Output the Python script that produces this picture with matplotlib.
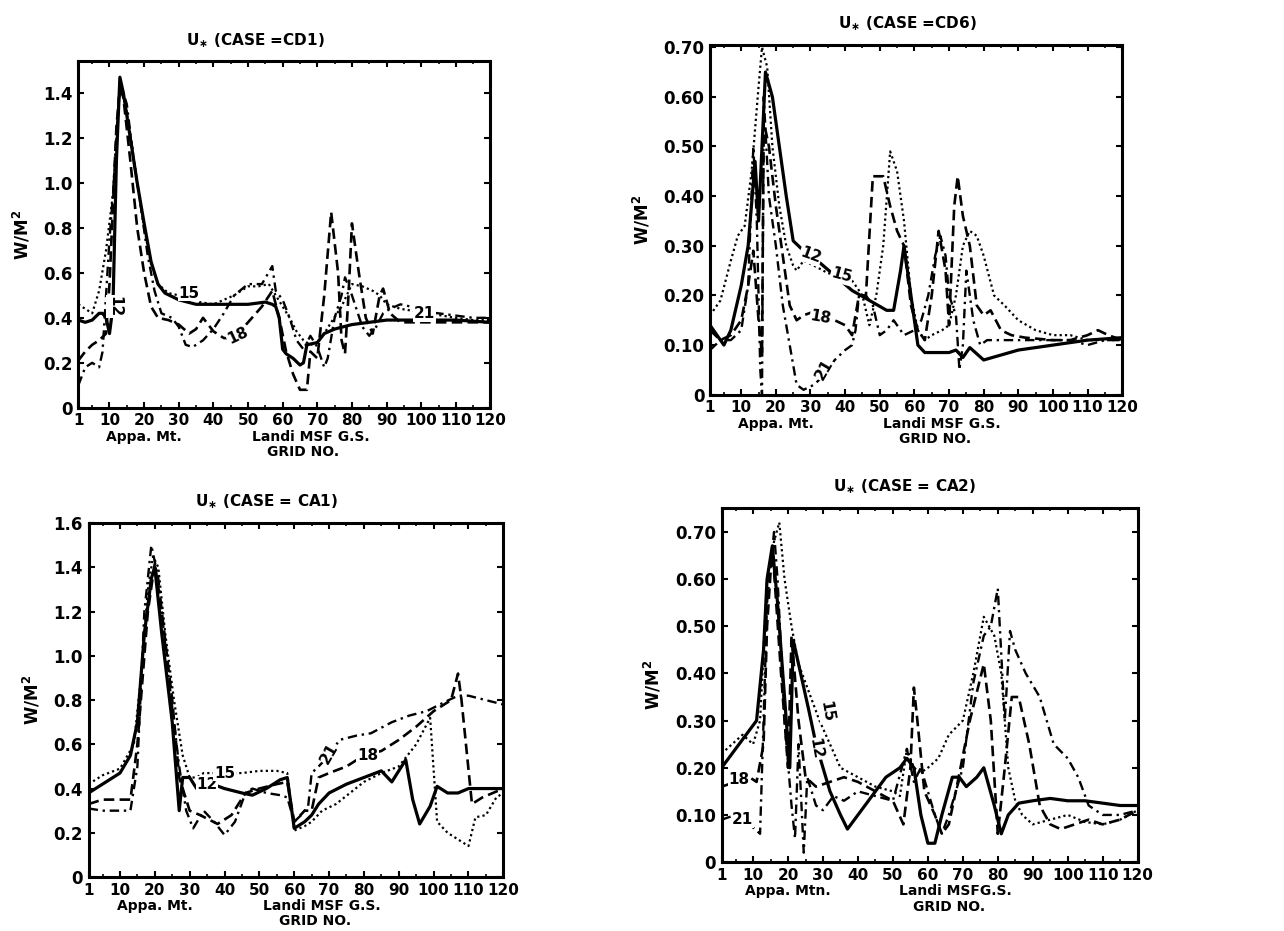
import matplotlib
matplotlib.use("Agg")
import matplotlib.pyplot as plt

plt.rcParams['font.family'] = ['DejaVu Sans']
plt.rcParams['font.weight'] = 'bold'

xticks = [1, 10, 20, 30, 40, 50, 60, 70, 80, 90, 100, 110, 120]
xticklabels = ['1', '10', '20', '30', '40', '50', '60', '70', '80', '90', '100', '110', '120']

# ---- CASE = CD1 ----
cd1_x12 = [1, 3, 5, 7, 8, 9, 10, 11, 12, 13, 14, 16, 18, 20, 22, 24, 26, 30, 35, 40, 45, 50, 55, 57, 58, 59, 60, 61, 63, 65, 66, 67, 70, 72, 75, 80, 85, 90, 95, 100, 110, 120]
cd1_y12 = [0.39, 0.38, 0.39, 0.42, 0.42, 0.40, 0.33, 0.45, 1.10, 1.47, 1.40, 1.20, 1.00, 0.82, 0.65, 0.55, 0.51, 0.48, 0.46, 0.46, 0.46, 0.46, 0.47, 0.46, 0.45, 0.40, 0.26, 0.24, 0.22, 0.19, 0.20, 0.28, 0.29, 0.33, 0.35, 0.37, 0.38, 0.39, 0.39, 0.39, 0.39, 0.38]
cd1_x15 = [1, 3, 5, 7, 9, 11, 12, 13, 14, 16, 18, 20, 22, 24, 27, 30, 33, 36, 40, 43, 46, 50, 53, 56, 58, 60, 62, 64, 66, 68, 70, 72, 74, 77, 80, 83, 86, 88, 90, 94, 98, 102, 106, 110, 115, 120]
cd1_y15 = [0.46, 0.44, 0.42, 0.52, 0.70, 0.95, 1.20, 1.42, 1.40, 1.22, 1.00, 0.80, 0.64, 0.55, 0.51, 0.50, 0.50, 0.47, 0.46, 0.48, 0.50, 0.54, 0.54, 0.55, 0.50, 0.45, 0.40, 0.34, 0.30, 0.28, 0.29, 0.33, 0.38, 0.45, 0.55, 0.54, 0.52, 0.50, 0.46, 0.44, 0.43, 0.42, 0.41, 0.40, 0.39, 0.39]
cd1_x18 = [1, 3, 5, 7, 9, 10, 11, 12, 13, 14, 16, 18, 20, 22, 24, 27, 30, 33, 35, 37, 40, 43, 46, 50, 54, 57, 59, 61, 63, 65, 67, 68, 70, 72, 74, 76, 77, 78, 79, 80, 82, 84, 86, 88, 89, 91, 94, 98, 102, 108, 114, 120]
cd1_y18 = [0.21, 0.25, 0.28, 0.30, 0.33, 0.55, 0.90, 1.25, 1.42, 1.38, 1.10, 0.80, 0.60, 0.45, 0.40, 0.39, 0.37, 0.33, 0.35, 0.40, 0.34, 0.31, 0.31, 0.38, 0.45, 0.52, 0.40, 0.25, 0.15, 0.08, 0.08, 0.25, 0.22, 0.50, 0.87, 0.60, 0.30, 0.24, 0.50, 0.82, 0.60, 0.40, 0.33, 0.50, 0.53, 0.42, 0.38, 0.38, 0.38, 0.38, 0.38, 0.38]
cd1_x21 = [1, 3, 5, 7, 8, 9, 10, 11, 12, 13, 15, 17, 19, 21, 23, 25, 28, 30, 32, 34, 37, 40, 43, 46, 50, 54, 57, 58, 60, 62, 64, 66, 68, 70, 72, 73, 75, 77, 78, 80, 83, 85, 87, 89, 91, 94, 97, 100, 105, 110, 115, 120]
cd1_y21 = [0.10, 0.18, 0.20, 0.18, 0.25, 0.50, 0.75, 0.95, 1.20, 1.45, 1.35, 1.10, 0.90, 0.68, 0.52, 0.42, 0.40, 0.36, 0.28, 0.27, 0.30, 0.35, 0.42, 0.50, 0.55, 0.55, 0.63, 0.52, 0.48, 0.40, 0.30, 0.26, 0.32, 0.27, 0.18, 0.22, 0.40, 0.50, 0.58, 0.50, 0.36, 0.32, 0.36, 0.42, 0.44, 0.46, 0.45, 0.43, 0.42, 0.41, 0.40, 0.40]

# ---- CASE = CD6 ----
cd6_x12 = [1, 5, 7, 10, 12, 14, 15, 17, 19, 21, 23, 25, 28, 32, 37, 42, 47, 52, 54, 56, 57, 59, 61, 63, 70, 72, 74, 76, 80, 85, 90, 100, 110, 120]
cd6_y12 = [0.14, 0.10, 0.13, 0.22, 0.30, 0.47, 0.35, 0.65, 0.60, 0.50, 0.40, 0.31, 0.29, 0.27, 0.24, 0.21, 0.19, 0.17, 0.17, 0.25, 0.30, 0.20, 0.10, 0.085, 0.085, 0.09, 0.075, 0.095, 0.07, 0.08, 0.09, 0.10, 0.11, 0.115]
cd6_x15 = [1, 4, 7, 9, 11, 13, 15, 16, 17.5, 19, 21, 23, 25, 26, 28, 31, 35, 38, 41, 43, 45, 47, 49, 51, 53, 55, 57, 59, 61, 63, 65, 68, 70, 72, 74, 76, 78, 80, 83, 86, 90, 95, 100, 105, 110, 115, 120]
cd6_y15 = [0.16, 0.19, 0.27, 0.32, 0.34, 0.45, 0.62, 0.70, 0.66, 0.50, 0.38, 0.30, 0.26, 0.25, 0.27, 0.26, 0.245, 0.24, 0.24, 0.22, 0.20, 0.14, 0.20, 0.30, 0.49, 0.45, 0.35, 0.20, 0.13, 0.11, 0.12, 0.13, 0.14, 0.20, 0.30, 0.33, 0.32, 0.28, 0.20, 0.18, 0.15, 0.13, 0.12, 0.12, 0.11, 0.11, 0.11]
cd6_x18 = [1, 4, 7, 10, 12, 13.5, 15, 16, 16.5, 18, 20, 22, 24, 26, 28, 30, 33, 37, 40, 42, 44, 46, 48, 51, 53, 55, 57, 59, 61, 63, 65, 67, 69, 70, 71.5, 72.5, 74, 76, 78, 80, 82, 85, 88, 92, 100, 105, 110, 113, 116, 120]
cd6_y18 = [0.13, 0.11, 0.12, 0.15, 0.22, 0.29, 0.15, 0.08, 0.55, 0.50, 0.38, 0.28, 0.18, 0.15, 0.16, 0.165, 0.16, 0.15, 0.14, 0.12, 0.20, 0.20, 0.44, 0.44, 0.38, 0.33, 0.30, 0.18, 0.13, 0.11, 0.20, 0.33, 0.25, 0.14, 0.38, 0.44, 0.36, 0.30, 0.18, 0.16, 0.17, 0.13, 0.12, 0.115, 0.11, 0.11, 0.12, 0.13, 0.12, 0.11]
cd6_x21 = [1, 4, 7, 10, 12, 13.5, 14.5, 15.5, 16, 16.5, 18, 20, 22, 24, 26, 28, 31, 34, 37, 40, 42, 43, 44, 46, 48, 50, 52, 54, 57, 60, 62, 64, 66, 67.5, 69, 70, 72, 73, 74, 75, 77, 79, 81, 85, 90, 95, 100, 105, 110, 115, 120]
cd6_y21 = [0.09, 0.11, 0.11, 0.13, 0.22, 0.50, 0.35, 0.05, 0.00, 0.60, 0.40, 0.30, 0.18, 0.10, 0.02, 0.01, 0.02, 0.04, 0.07, 0.09, 0.10, 0.13, 0.20, 0.20, 0.18, 0.12, 0.13, 0.15, 0.12, 0.13, 0.15, 0.20, 0.28, 0.32, 0.28, 0.20, 0.16, 0.05, 0.10, 0.25, 0.15, 0.10, 0.11, 0.11, 0.11, 0.11, 0.11, 0.11, 0.10, 0.11, 0.11]

# ---- CASE = CA1 ----
ca1_x12 = [1, 5, 10, 13, 15, 17, 19, 20, 22, 25, 27, 28, 30, 32, 33, 40, 45, 48, 52, 56, 58, 60, 63, 65, 67, 70, 75, 80, 85, 88, 90, 92, 94, 96, 99, 101, 104, 107, 110, 115, 120]
ca1_y12 = [0.38, 0.42, 0.47, 0.55, 0.70, 1.10, 1.35, 1.40, 1.10, 0.70, 0.30, 0.45, 0.45, 0.40, 0.44, 0.40, 0.38, 0.37, 0.40, 0.44, 0.45, 0.22, 0.25, 0.28, 0.33, 0.38, 0.42, 0.45, 0.48, 0.43, 0.48, 0.53, 0.35, 0.24, 0.32, 0.41, 0.38, 0.38, 0.40, 0.40, 0.40]
ca1_x15 = [1, 5, 10, 14, 16, 18, 19.5, 21, 23, 25.5, 28, 30, 32, 34, 40, 45, 50, 55, 58, 60, 63, 65, 68, 72, 76, 80, 85, 90, 95, 99, 101, 104, 107, 110, 112, 115, 118, 120]
ca1_y15 = [0.42, 0.46, 0.49, 0.60, 0.90, 1.30, 1.45, 1.40, 1.10, 0.80, 0.55, 0.45, 0.45, 0.47, 0.47, 0.47, 0.48, 0.48, 0.47, 0.21, 0.23, 0.25, 0.30, 0.33, 0.38, 0.43, 0.47, 0.50, 0.60, 0.72, 0.25, 0.20, 0.17, 0.14, 0.27, 0.28, 0.36, 0.38]
ca1_x18 = [1, 5, 13, 15, 18, 20, 22, 25, 27, 30, 33, 38, 42, 46, 50, 55, 58, 60, 63, 65, 67, 70, 75, 80, 85, 90, 95, 100, 105, 107, 108, 111, 114, 117, 120]
ca1_y18 = [0.33, 0.35, 0.35, 0.60, 1.20, 1.42, 1.20, 0.80, 0.45, 0.30, 0.28, 0.24, 0.28, 0.38, 0.40, 0.42, 0.43, 0.25, 0.30, 0.30, 0.45, 0.47, 0.50, 0.55, 0.57, 0.62, 0.68, 0.75, 0.80, 0.92, 0.80, 0.33, 0.36, 0.38, 0.40]
ca1_x21 = [1, 5, 13, 15, 17, 19, 21, 24, 27, 29, 31, 34, 37, 40, 43, 46, 48, 52, 56, 58, 60, 62, 64, 65, 67, 70, 73, 78, 82, 88, 93, 98, 103, 107, 110, 115, 120]
ca1_y21 = [0.31, 0.30, 0.30, 0.50, 1.20, 1.50, 1.35, 0.90, 0.50, 0.30, 0.22, 0.30, 0.25, 0.19, 0.25, 0.38, 0.40, 0.38, 0.37, 0.36, 0.25, 0.28, 0.32, 0.47, 0.50, 0.55, 0.62, 0.64, 0.65, 0.70, 0.73, 0.75, 0.79, 0.82, 0.82, 0.80, 0.78]

# ---- CASE = CA2 ----
ca2_x12 = [1, 4, 8, 11, 13, 14, 15.5, 17, 19, 20.5, 21.5, 23, 26, 28, 30, 32, 35, 37, 40, 44, 48, 52, 54, 56, 58, 60, 62, 64, 67, 69, 71, 74, 76, 79, 81, 83, 86, 90, 95, 100, 105, 110, 115, 120]
ca2_y12 = [0.20, 0.23, 0.27, 0.30, 0.45, 0.60, 0.67, 0.55, 0.35, 0.20, 0.47, 0.42, 0.32, 0.25, 0.20, 0.15, 0.10, 0.07, 0.10, 0.14, 0.18, 0.20, 0.22, 0.20, 0.10, 0.04, 0.04, 0.10, 0.18, 0.18, 0.16, 0.18, 0.20, 0.12, 0.06, 0.10, 0.125, 0.13, 0.135, 0.13, 0.13, 0.125, 0.12, 0.12]
ca2_x15 = [1, 4, 7, 10, 12, 14, 16, 17.5, 19, 21, 23, 26, 29, 32, 35, 40, 45, 50, 52, 54, 56, 58, 60, 63, 66, 70, 73, 75, 76, 79, 81, 82, 83, 85, 87, 90, 95, 100, 105, 110, 115, 120]
ca2_y15 = [0.23, 0.25, 0.27, 0.25, 0.30, 0.60, 0.68, 0.72, 0.60, 0.50, 0.42, 0.36, 0.30, 0.25, 0.20, 0.18, 0.16, 0.15, 0.14, 0.24, 0.20, 0.19, 0.20, 0.22, 0.27, 0.30, 0.40, 0.48, 0.52, 0.48, 0.40, 0.30, 0.20, 0.13, 0.10, 0.08, 0.09, 0.10, 0.085, 0.08, 0.09, 0.11]
ca2_x18 = [1, 5, 9, 11, 13, 14, 15.5, 18, 20, 21, 23, 25, 28, 32, 36, 40, 45, 50, 53, 55, 56, 57, 59, 62, 64, 66, 68, 72, 76, 78, 80, 82, 84, 86, 89, 92, 95, 98, 102, 106, 110, 115, 120]
ca2_y18 = [0.16, 0.17, 0.18, 0.17, 0.25, 0.50, 0.67, 0.40, 0.20, 0.48, 0.30, 0.18, 0.16, 0.17, 0.18, 0.17, 0.15, 0.13, 0.08, 0.20, 0.37, 0.30, 0.15, 0.10, 0.06, 0.08, 0.15, 0.30, 0.42, 0.30, 0.06, 0.20, 0.35, 0.35, 0.25, 0.12, 0.08, 0.07, 0.08, 0.09, 0.08, 0.09, 0.11]
ca2_x21 = [1, 5, 9, 12, 13, 14, 16, 17, 19, 21, 22, 23, 24.5, 25.5, 28, 30, 33, 36, 40, 45, 50, 54, 56, 58, 60, 62, 64, 66, 70, 73, 76, 78, 80, 82, 83.5, 85, 88, 92, 96, 100, 103, 106, 110, 115, 120]
ca2_y21 = [0.09, 0.10, 0.08, 0.06, 0.30, 0.55, 0.70, 0.60, 0.30, 0.12, 0.05, 0.25, 0.02, 0.18, 0.12, 0.11, 0.14, 0.13, 0.15, 0.14, 0.13, 0.24, 0.17, 0.20, 0.15, 0.10, 0.06, 0.10, 0.20, 0.38, 0.48, 0.50, 0.58, 0.30, 0.49, 0.45, 0.40, 0.35, 0.25, 0.22, 0.18, 0.12, 0.10, 0.10, 0.11]

styles = {
    '12': dict(color='black', lw=2.3, linestyle='-'),
    '15': dict(color='black', lw=1.6, linestyle=(0, (1, 1.4))),
    '18': dict(color='black', lw=1.9, linestyle=(0, (4, 2))),
    '21': dict(color='black', lw=1.7, linestyle=(0, (4, 2, 1, 2))),
}

fig = plt.figure(figsize=(12.84, 9.31), dpi=100)

panels = [
    dict(rect=[0.061, 0.562, 0.321, 0.372], ylim=1.54, yt=[0, 0.2, 0.4, 0.6, 0.8, 1.0, 1.2, 1.4],
         ytl=['0', '0.2', '0.4', '0.6', '0.8', '1.0', '1.2', '1.4'],
         title='U$_{\\ast}$ (CASE =CD1)', tx=0.43, appa='Appa. Mt.', landi='Landi MSF G.S.',
         data=[(cd1_x12, cd1_y12, '12'), (cd1_x15, cd1_y15, '15'), (cd1_x18, cd1_y18, '18'), (cd1_x21, cd1_y21, '21')],
         labels=[('12', 11.5, 0.45, -90), ('15', 33, 0.51, 0), ('18', 47, 0.32, 25), ('21', 101, 0.42, 0)]),
    dict(rect=[0.553, 0.576, 0.321, 0.376], ylim=0.705, yt=[0, 0.1, 0.2, 0.3, 0.4, 0.5, 0.6, 0.7],
         ytl=['0', '0.10', '0.20', '0.30', '0.40', '0.50', '0.60', '0.70'],
         title='U$_{\\ast}$ (CASE =CD6)', tx=0.48, appa='Appa. Mt.', landi='Landi MSF G.S.',
         data=[(cd6_x12, cd6_y12, '12'), (cd6_x15, cd6_y15, '15'), (cd6_x18, cd6_y18, '18'), (cd6_x21, cd6_y21, '21')],
         labels=[('12', 30, 0.28, -20), ('15', 39, 0.24, -15), ('18', 33, 0.155, -10), ('21', 34, 0.05, 60)]),
    dict(rect=[0.069, 0.058, 0.323, 0.380], ylim=1.6, yt=[0, 0.2, 0.4, 0.6, 0.8, 1.0, 1.2, 1.4, 1.6],
         ytl=['0', '0.2', '0.4', '0.6', '0.8', '1.0', '1.2', '1.4', '1.6'],
         title='U$_{\\ast}$ (CASE = CA1)', tx=0.43, appa='Appa. Mt.', landi='Landi MSF G.S.',
         data=[(ca1_x12, ca1_y12, '12'), (ca1_x15, ca1_y15, '15'), (ca1_x18, ca1_y18, '18'), (ca1_x21, ca1_y21, '21')],
         labels=[('12', 35, 0.42, 0), ('15', 40, 0.47, 0), ('21', 70, 0.56, 60), ('18', 81, 0.55, 0)]),
    dict(rect=[0.562, 0.074, 0.324, 0.380], ylim=0.75, yt=[0, 0.1, 0.2, 0.3, 0.4, 0.5, 0.6, 0.7],
         ytl=['0', '0.10', '0.20', '0.30', '0.40', '0.50', '0.60', '0.70'],
         title='U$_{\\ast}$ (CASE = CA2)', tx=0.44, appa='Appa. Mtn.', landi='Landi MSFG.S.',
         data=[(ca2_x12, ca2_y12, '12'), (ca2_x15, ca2_y15, '15'), (ca2_x18, ca2_y18, '18'), (ca2_x21, ca2_y21, '21')],
         labels=[('18', 6, 0.175, 0), ('21', 7, 0.09, 0), ('12', 28, 0.24, -80), ('15', 31, 0.32, -80)]),
]

for p in panels:
    ax = fig.add_axes(p['rect'])
    for xs, ys, key in p['data']:
        ax.plot(xs, ys, **styles[key])
    ax.set_xlim(1, 120)
    ax.set_ylim(0, p['ylim'])
    ax.set_xticks(xticks)
    ax.set_xticklabels(xticklabels)
    ax.set_yticks(p['yt'])
    ax.set_yticklabels(p['ytl'])
    ax.set_xticks(range(5, 120, 5), minor=True)
    ax.tick_params(direction='in', top=True, right=True, length=4, width=1.5, labelsize=12, pad=4)
    ax.tick_params(axis='x', labelsize=11)
    ax.tick_params(which='minor', direction='in', top=True, right=True, length=2, width=1.2)
    for lab in ax.get_xticklabels() + ax.get_yticklabels():
        lab.set_fontweight('bold')
    for s in ax.spines.values():
        s.set_linewidth(2.2)
    ax.set_ylabel('W/M$^2$', fontsize=12, fontweight='bold', labelpad=8)
    ax.text(p['tx'], 1.06, p['title'], transform=ax.transAxes, ha='center', va='center',
            fontsize=11, fontweight='bold')
    ax.annotate(p['appa'], xy=(20, 0), xycoords=('data', 'axes fraction'), xytext=(0, -21),
                textcoords='offset points', ha='center', va='center', fontsize=10, fontweight='bold')
    ax.annotate(p['landi'], xy=(68, 0), xycoords=('data', 'axes fraction'), xytext=(0, -21),
                textcoords='offset points', ha='center', va='center', fontsize=10)
    ax.annotate('GRID NO.', xy=(66, 0), xycoords=('data', 'axes fraction'), xytext=(0, -32),
                textcoords='offset points', ha='center', va='center', fontsize=10, fontweight='bold')
    for txt, lx, ly, rot in p['labels']:
        ax.text(lx, ly, txt, fontsize=11, ha='center', va='center', rotation=rot,
                bbox=dict(facecolor='white', edgecolor='none', pad=0.5))

fig.savefig('out.png', dpi=100)
